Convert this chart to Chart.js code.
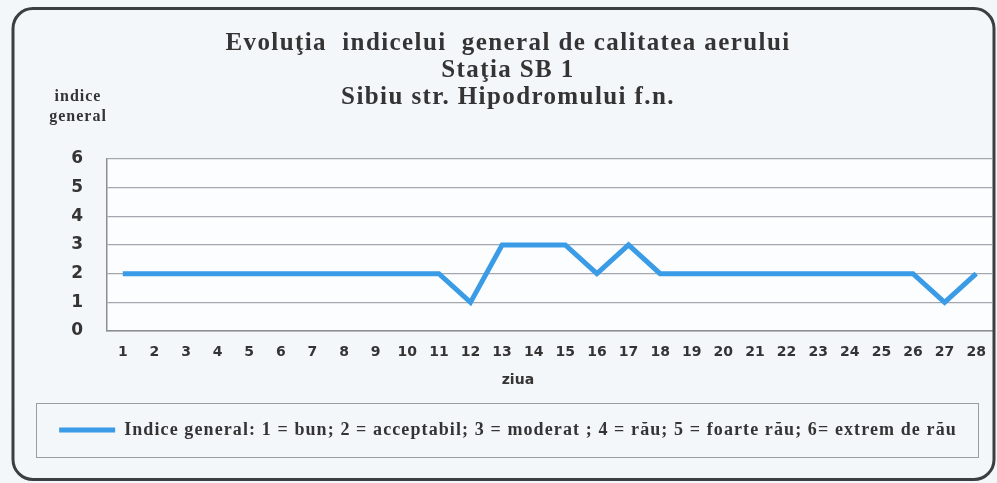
<!DOCTYPE html>
<html>
<head>
<meta charset="utf-8">
<script src="https://cdn.jsdelivr.net/npm/chart.js@4.4.1/dist/chart.umd.min.js"></script>
<style>
  html, body { margin: 0; padding: 0; background: #f4f7fa; }
  #wrap { position: relative; width: 997px; height: 483px; }
</style>
</head>
<body>
<div id="wrap"><canvas id="aqi-chart" width="997" height="483"></canvas></div>
<script>
// Zilele lunii si indicele general zilnic
var days = ['1','2','3','4','5','6','7','8','9','10','11','12','13','14','15','16','17','18','19','20','21','22','23','24','25','26','27','28'];
var indiceValues = [2,2,2,2,2,2,2,2,2,2,2,1,3,3,3,2,3,2,2,2,2,2,2,2,2,2,1,2];
var yMin = 0, yMax = 6, yStep = 1;

var titleLines = ['Evoluţia  indicelui  general de calitatea aerului', 'Staţia SB 1', 'Sibiu str. Hipodromului f.n.'];
var yAxisLabel = ['indice', 'general'];
var xAxisLabel = 'ziua';
var legendLabel = 'Indice general: 1 = bun; 2 = acceptabil; 3 = moderat ; 4 = rău; 5 = foarte rău; 6= extrem de rău';

var lineBlue = '#3a9be6';
var textDark = '#343434';

// the scanned original has wide serif text, so add some letter spacing
function spaced(obj, method, spacing) {
    var orig = obj[method];
    obj[method] = function() {
        var c = this.ctx;
        var prev = c.letterSpacing;
        c.letterSpacing = spacing;
        var r = orig.apply(this, arguments);
        c.letterSpacing = prev;
        return r;
    };
}

// frame, plot background, legend box and axis labels
var framePlugin = {
    id: 'frame',
    afterInit: function(chart) {
        spaced(chart.titleBlock, 'draw', '1.4px');
        spaced(chart.legend, 'fit', '1.1px');
        spaced(chart.legend, 'draw', '1.1px');
    },
    beforeDraw: function(chart) {
        var ctx = chart.ctx, a = chart.chartArea;
        ctx.save();
        ctx.fillStyle = '#fcfdfe';
        ctx.fillRect(a.left, a.top, a.right - a.left, a.bottom - a.top);
        ctx.restore();
    },
    afterDraw: function(chart) {
        var ctx = chart.ctx, a = chart.chartArea, lg = chart.legend;
        var lgOpts = lg.options.labels;
        var textMid = lg.top + lgOpts.padding + lgOpts.font.size / 2;
        ctx.save();
        // outer rounded border
        ctx.strokeStyle = '#3b3f44';
        ctx.lineWidth = 3;
        ctx.beginPath();
        ctx.roundRect(13, 8.5, chart.width - 16, chart.height - 12, 20);
        ctx.stroke();
        // legend box
        ctx.strokeStyle = '#9a9ea4';
        ctx.lineWidth = 1;
        ctx.strokeRect(36.5, Math.round(textMid - 27) + 0.5, 942, 54);
        // y axis label
        ctx.fillStyle = textDark;
        ctx.font = 'bold 16px "Liberation Serif"';
        ctx.letterSpacing = '1px';
        ctx.textAlign = 'center';
        ctx.textBaseline = 'middle';
        ctx.fillText(yAxisLabel[0], 78, a.top - 62);
        ctx.fillText(yAxisLabel[1], 78, a.top - 42);
        // x axis label, sits under days 13-14 as in the original
        ctx.letterSpacing = '0px';
        ctx.font = 'bold 14px "DejaVu Sans"';
        ctx.fillText(xAxisLabel, chart.scales.x.getPixelForValue(12.5), a.bottom + 49);
        ctx.restore();
    }
};

var ctx = document.getElementById('aqi-chart').getContext('2d');
new Chart(ctx, {
    type: 'line',
    data: {
        labels: days,
        datasets: [{
            label: legendLabel,
            data: indiceValues,
            borderColor: lineBlue,
            backgroundColor: lineBlue,
            borderWidth: 5,
            pointRadius: 0,
            tension: 0,
            fill: false
        }]
    },
    options: {
        responsive: false,
        animation: false,
        layout: { padding: { top: 20, left: 24, right: 5, bottom: 34 } },
        plugins: {
            title: {
                display: true,
                text: titleLines,
                color: textDark,
                font: { family: '"Liberation Serif"', size: 25, weight: 'bold', lineHeight: 1.08 },
                padding: { top: 10, bottom: 48 }
            },
            legend: {
                position: 'bottom',
                labels: {
                    color: textDark,
                    font: { family: '"Liberation Serif"', size: 18, weight: 'bold' },
                    usePointStyle: true,
                    pointStyle: 'line',
                    pointStyleWidth: 56,
                    padding: 10
                }
            },
            tooltip: { enabled: false }
        },
        scales: {
            x: {
                offset: true,
                // hidden tick marks give the labels their vertical gap
                grid: { display: false, drawTicks: true, tickLength: 13 },
                border: { color: '#8a8e94', width: 1.5 },
                ticks: {
                    color: textDark,
                    font: { family: '"DejaVu Sans"', size: 14, weight: 'bold' },
                    padding: 0,
                    maxRotation: 0,
                    autoSkip: false
                },
                afterFit: function(scale) { scale.height = 80; }
            },
            y: {
                min: yMin,
                max: yMax,
                grid: { color: '#a4a8ae', lineWidth: 1.2, drawTicks: false },
                border: { color: '#8a8e94', width: 1.5 },
                ticks: {
                    stepSize: yStep,
                    color: textDark,
                    font: { family: '"DejaVu Sans"', size: 17, weight: 'bold' },
                    padding: 24
                },
                afterFit: function(scale) { scale.width = 83; }
            }
        }
    },
    plugins: [framePlugin]
});
</script>
</body>
</html>
